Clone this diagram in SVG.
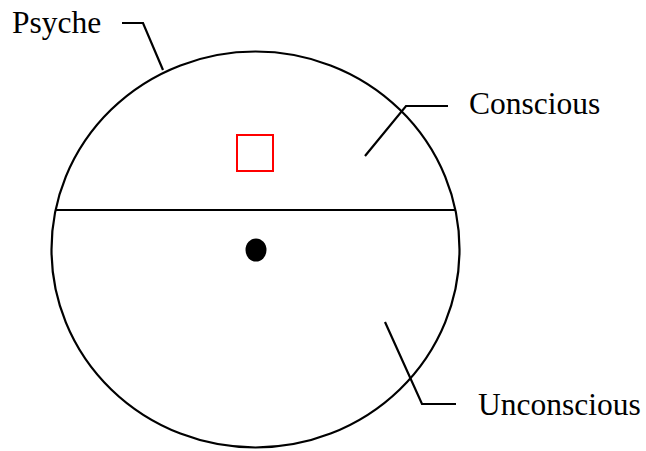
<svg xmlns="http://www.w3.org/2000/svg" width="646" height="451" viewBox="0 0 646 451">
<style>
.ln{fill:none;stroke:#000;stroke-width:2.2}
.lbl{font-family:"Liberation Serif","Times New Roman",serif;font-size:31.5px;fill:#000}
</style>
<rect width="646" height="451" fill="#fff"/>
<g id="psyche">
<ellipse class="ln" cx="255.5" cy="249.5" rx="204" ry="198"/>
<text class="lbl" x="12" y="33">Psyche</text>
</g>
<g id="divider">
<line class="ln" x1="55.6" y1="210" x2="455.4" y2="210"/>
</g>
<g id="conscious">
<text class="lbl" x="469" y="114">Conscious</text>
</g>
<g id="unconscious">
<text class="lbl" x="478" y="415">Unconscious</text>
</g>
<g id="square">
<rect x="237" y="135" width="36" height="36" fill="none" stroke="#ff0000" stroke-width="2"/>
</g>
<g id="dot">
<ellipse cx="256" cy="250" rx="10.5" ry="11.5" fill="#000"/>
</g>
<g id="connectors">
<polyline class="ln" points="122,23 143,23 163,70"/>
<polyline class="ln" points="448,106 406,106 365,156"/>
<polyline class="ln" points="385,322 422,404 456,404"/>
</g>
</svg>
